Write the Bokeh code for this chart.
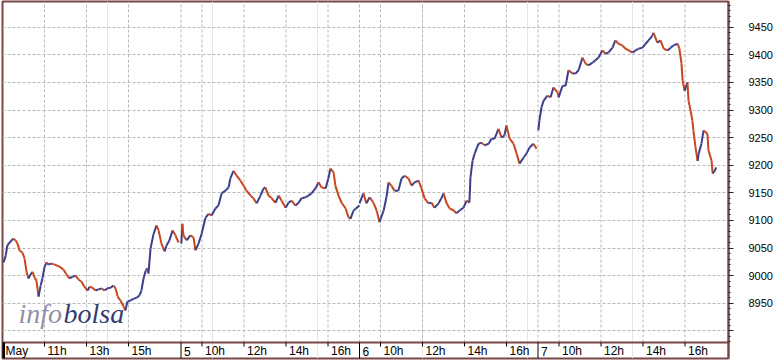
from bokeh.plotting import figure
from bokeh.models import Range1d, FixedTicker, ColumnDataSource, BoxAnnotation
from bokeh.embed import file_html
from bokeh.resources import INLINE
from bokeh.core.properties import value

# ---- data (index level, trading sessions 9:00-17:30) ----
SESSION_HOURS = 8.5
day_labels = ["May", "5", "6", "7"]
hour_ticks = [[11, 13, 15], [10, 12, 14, 16], [10, 12, 14, 16], [10, 12, 14, 16]]
y_ticks = [8900, 8950, 9000, 9050, 9100, 9150, 9200, 9250, 9300, 9350, 9400, 9450]
y_hidden_labels = [8900]

# minutes after 9:00 and price, one pair of lists per session
d1_min = [3, 9, 14, 23, 31, 37, 43, 49, 57, 63, 69, 74, 80, 86, 91, 97, 103, 109, 114, 120,
          126, 131, 140, 149, 157, 166, 174, 183, 191, 200, 209, 217, 226, 234, 243, 249, 257, 266, 274, 283,
          291, 300, 309, 317, 323, 329, 337, 346, 351, 357, 366, 374, 383, 391, 397, 403, 409, 414, 417, 423,
          431, 440, 446, 454, 463, 469, 477, 486, 494, 503]
d1_px = [9024, 9036, 9055, 9062, 9067, 9064, 9058, 9045, 9042, 9031, 9006, 8995, 9002, 9007, 8997, 8991, 8962, 8982, 8995, 9016,
         9024, 9020, 9022, 9020, 9018, 9015, 9011, 9002, 8995, 8998, 9000, 8993, 8989, 8980, 8973, 8980, 8978, 8973, 8975, 8977,
         8973, 8977, 8978, 8982, 8977, 8962, 8955, 8944, 8937, 8953, 8955, 8958, 8960, 8964, 8973, 8995, 9009, 9013, 9004, 9049,
         9074, 9091, 9082, 9058, 9044, 9055, 9064, 9082, 9073, 9060]

d2_min = [1, 4, 7, 16, 27, 36, 41, 50, 59, 70, 79, 87, 99, 107, 116, 127, 136, 141, 150, 159,
          170, 179, 187, 199, 207, 216, 227, 236, 241, 250, 259, 270, 279, 287, 299, 307, 316, 327, 336, 344,
          356, 364, 373, 384, 393, 401, 413, 421, 427, 436, 441, 450, 459, 470, 479, 484, 493, 501, 509]
d2_px = [9058, 9094, 9073, 9064, 9073, 9069, 9046, 9058, 9076, 9105, 9112, 9109, 9122, 9127, 9149, 9154, 9160, 9176, 9190, 9181,
         9172, 9163, 9154, 9145, 9140, 9131, 9145, 9158, 9160, 9145, 9140, 9132, 9145, 9136, 9123, 9132, 9136, 9127, 9132, 9140,
         9142, 9145, 9149, 9158, 9169, 9160, 9158, 9176, 9194, 9187, 9163, 9145, 9132, 9122, 9105, 9103, 9118, 9122, 9127]

d3_min = [0, 11, 20, 29, 40, 49, 57, 69, 77, 83, 91, 100, 111, 120, 129, 140, 149, 157, 169, 177,
          186, 197, 206, 214, 226, 234, 240, 249, 257, 269, 277, 286, 297, 306, 314, 317, 323, 329, 340, 349,
          357, 369, 377, 386, 397, 406, 414, 420, 429, 440, 449, 457, 469, 477, 486, 497, 506]
d3_px = [9131, 9149, 9131, 9142, 9132, 9118, 9097, 9118, 9142, 9169, 9163, 9154, 9154, 9176, 9181, 9176, 9163, 9169, 9172, 9158,
         9140, 9131, 9132, 9123, 9131, 9140, 9149, 9131, 9122, 9118, 9113, 9118, 9123, 9136, 9132, 9178, 9208, 9221, 9239, 9241,
         9236, 9239, 9248, 9248, 9266, 9250, 9254, 9272, 9248, 9239, 9221, 9203, 9214, 9221, 9232, 9239, 9230]

d4_min = [1, 4, 10, 16, 27, 36, 44, 56, 59, 70, 79, 87, 99, 107, 116, 127, 136, 144, 156, 164,
          173, 184, 193, 201, 213, 221, 230, 241, 250, 259, 270, 279, 287, 299, 307, 316, 327, 330, 341, 350,
          359, 370, 379, 387, 399, 404, 410, 413, 419, 427, 430, 436, 441, 444, 450, 456, 459, 467, 473, 484,
          487, 496, 499, 505, 509]
d4_px = [9263, 9281, 9305, 9317, 9326, 9323, 9341, 9332, 9323, 9344, 9344, 9372, 9366, 9366, 9372, 9395, 9384, 9381, 9386, 9390,
         9395, 9408, 9402, 9404, 9413, 9426, 9420, 9417, 9411, 9408, 9404, 9408, 9411, 9413, 9420, 9426, 9435, 9440, 9422, 9426,
         9411, 9408, 9413, 9417, 9420, 9411, 9384, 9354, 9335, 9350, 9317, 9299, 9281, 9263, 9232, 9208, 9221, 9239, 9263, 9257,
         9227, 9208, 9185, 9190, 9196]

sessions = [(d1_min, d1_px), (d2_min, d2_px), (d3_min, d3_px), (d4_min, d4_px)]

UP = "#3b3f8c"
DOWN = "#c8461e"
FRAME = "#7a4646"
GRID = "#b9b9b9"

# ---- build segments through the data scale ----
x0, y0, x1, y1, col = [], [], [], [], []
for d, (mins, prices) in enumerate(sessions):
    xs = [d * SESSION_HOURS + m / 60.0 for m in mins]
    for i in range(1, len(prices)):
        x0.append(xs[i - 1]); y0.append(prices[i - 1])
        x1.append(xs[i]); y1.append(prices[i])
        col.append(UP if prices[i] >= prices[i - 1] else DOWN)
src = ColumnDataSource(dict(x0=x0, y0=y0, x1=x1, y1=y1, c=col))

tick_pos, tick_txt = [], []
for d, hrs in enumerate(hour_ticks):
    for h in hrs:
        tick_pos.append(d * SESSION_HOURS + (h - 9))
        tick_txt.append(f"{h}h")
sep_pos = [d * SESSION_HOURS for d in range(1, len(day_labels))]
day_pos = [d * SESSION_HOURS for d in range(len(day_labels))]
vgrid = sorted(tick_pos + sep_pos)

# frame spans the price panel (1..342 px) plus the time strip (342..358 px)
x_end = 4 * SESSION_HOURS + 0.571
PRICE_LO, PRICE_HI = 8849.9, 9496.6
STRIP_TOP = 16  # strip range is in pixels above the frame bottom
p = figure(width=780, height=360, x_range=Range1d(0, x_end), y_range=Range1d(PRICE_LO, PRICE_HI),
           x_axis_location=None, y_axis_location="right", toolbar_location=None,
           output_backend="svg", min_border_left=2, min_border_right=52,
           min_border_top=1, min_border_bottom=2)
p.extra_y_ranges = {"strip": Range1d(0, 357)}
p.outline_line_color = FRAME
p.outline_line_width = 2
p.background_fill_color = "white"
p.border_fill_color = "white"

# beige corner right of the time strip
p.add_layout(BoxAnnotation(left=729, right=780, top=343, bottom=360,
                           left_units="canvas", right_units="canvas",
                           top_units="canvas", bottom_units="canvas",
                           fill_color="#ECE9D8", fill_alpha=1.0, line_color=None))

ax = p.yaxis[0]
ax.ticker = FixedTicker(ticks=y_ticks, minor_ticks=list(range(8880, 9500, 10)))
ax.major_label_overrides = {v: "" for v in y_hidden_labels}
ax.axis_line_color = FRAME
ax.axis_line_width = 2
ax.major_tick_line_color = "#222222"
ax.minor_tick_line_color = "#222222"
ax.major_tick_out = 5
ax.major_tick_in = 0
ax.minor_tick_out = 2
ax.minor_tick_in = 0
ax.major_label_standoff = 15
ax.major_label_text_font = "Liberation Sans"
ax.major_label_text_font_size = "11px"
ax.major_label_text_color = "#000000"

p.ygrid.grid_line_color = GRID
p.ygrid.grid_line_dash = "3 2"

# vertical dashed grid, only over the price panel
p.segment(x0=vgrid, y0=[STRIP_TOP] * len(vgrid), x1=vgrid, y1=[357] * len(vgrid),
          line_color=GRID, line_dash="3 2", line_width=1, y_range_name="strip")

# watermark
p.text(x=[0.762], y=[8932], text=["info"], text_font=value("Liberation Serif"), text_font_style="italic",
       text_font_size="28px", text_color="#8e90a8", text_baseline="middle")
p.text(x=[0.762], y=[8932], x_offset=45, text=["bolsa"], text_font=value("Liberation Serif"), text_font_style="italic",
       text_font_size="28px", text_color="#333d6e", text_baseline="middle")

# price path
p.segment(x0="x0", y0="y0", x1="x1", y1="y1", line_color="c", line_width=2.0, source=src)

# ---- time strip ----
p.segment(x0=[0], y0=[STRIP_TOP], x1=[x_end], y1=[STRIP_TOP], line_color=FRAME, line_width=2, y_range_name="strip")
p.segment(x0=[0], y0=[0], x1=[0], y1=[STRIP_TOP], line_color="#000000", line_width=5, y_range_name="strip")
p.segment(x0=sep_pos, y0=[0] * len(sep_pos), x1=sep_pos, y1=[STRIP_TOP] * len(sep_pos),
          line_color="#000000", line_width=1, y_range_name="strip")
p.segment(x0=tick_pos, y0=[STRIP_TOP] * len(tick_pos), x1=tick_pos, y1=[STRIP_TOP - 4] * len(tick_pos),
          line_color="#000000", line_width=1, y_range_name="strip")
p.text(x=day_pos + tick_pos, y=[7.5] * (len(day_pos) + len(tick_pos)), text=day_labels + tick_txt,
       x_offset=3, text_font=value("Liberation Sans"), text_font_size="12px",
       text_color="#000000", text_baseline="middle", text_align="left", y_range_name="strip")

open("out.html", "w").write(file_html(p, INLINE))
